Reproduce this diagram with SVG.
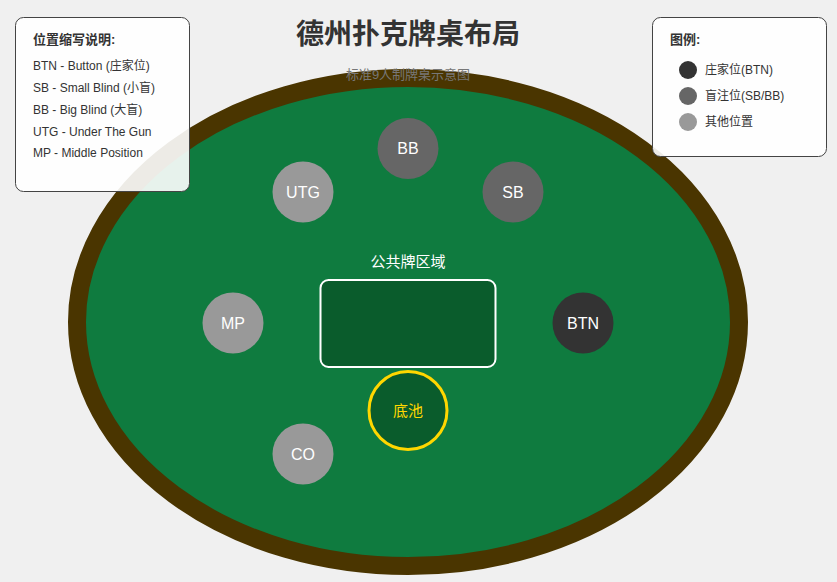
<svg xmlns="http://www.w3.org/2000/svg" width="837" height="582" viewBox="0 0 837 582">
<style>
text{font-family:"Liberation Sans","Noto Sans CJK SC",Arial,sans-serif}
.seat text{fill:#fff;font-size:16px;text-anchor:middle}
.lg{fill:#333;font-size:12px}
.lgt{fill:#333;font-size:13px;font-weight:bold}
.box{fill:#fff;fill-opacity:0.9;stroke:#444;stroke-width:1}
</style>
<rect width="837" height="582" fill="#f0f0f0"/>
<g id="table">
<ellipse cx="408" cy="322" rx="331" ry="244" fill="#0f7b3f" stroke="#4a3500" stroke-width="18"/>
</g>
<text x="408" y="44" text-anchor="middle" font-size="28" font-weight="bold" fill="#333">德州扑克牌桌布局</text>
<text x="408" y="79" text-anchor="middle" font-size="13" fill="#777">标准9人制牌桌示意图</text>
<g id="community">
<text x="408" y="267" text-anchor="middle" font-size="15" fill="#fff">公共牌区域</text>
<rect x="320.5" y="280" width="175" height="87" rx="8" fill="#0a5c2c" stroke="#fff" stroke-width="2"/>
</g>
<g id="pot">
<circle cx="408" cy="410.5" r="39" fill="#0a5c2c" stroke="#ffd700" stroke-width="3"/>
<text x="408" y="416" text-anchor="middle" font-size="15" fill="#ffd700">底池</text>
</g>
<g id="connectors"></g>
<g id="seat-BB" class="seat"><circle cx="408" cy="148.5" r="30.5" fill="#666"/><text x="408" y="154">BB</text></g>
<g id="seat-UTG" class="seat"><circle cx="303" cy="192" r="30.5" fill="#999"/><text x="303" y="198">UTG</text></g>
<g id="seat-SB" class="seat"><circle cx="513" cy="192" r="30.5" fill="#666"/><text x="513" y="198">SB</text></g>
<g id="seat-MP" class="seat"><circle cx="233" cy="323" r="30.5" fill="#999"/><text x="233" y="329">MP</text></g>
<g id="seat-BTN" class="seat"><circle cx="583" cy="323" r="30.5" fill="#333"/><text x="583" y="329">BTN</text></g>
<g id="seat-CO" class="seat"><circle cx="303" cy="454" r="30.5" fill="#999"/><text x="303" y="460">CO</text></g>
<g id="abbr-legend">
<rect class="box" x="15.5" y="17.5" width="174" height="174" rx="8"/>
<text class="lgt" x="33" y="44">位置缩写说明:</text>
<text class="lg" x="33" y="70">BTN - Button (庄家位)</text>
<text class="lg" x="33" y="92">SB - Small Blind (小盲)</text>
<text class="lg" x="33" y="114">BB - Big Blind (大盲)</text>
<text class="lg" x="33" y="136">UTG - Under The Gun</text>
<text class="lg" x="33" y="157">MP - Middle Position</text>
</g>
<g id="color-legend">
<rect class="box" x="652.5" y="17.5" width="174" height="139" rx="8"/>
<text class="lgt" x="670" y="44">图例:</text>
<circle cx="688" cy="70" r="9" fill="#333"/>
<text class="lg" x="705" y="74">庄家位(BTN)</text>
<circle cx="688" cy="96" r="9" fill="#666"/>
<text class="lg" x="705" y="100">盲注位(SB/BB)</text>
<circle cx="688" cy="122" r="9" fill="#999"/>
<text class="lg" x="705" y="126">其他位置</text>
</g>
</svg>
